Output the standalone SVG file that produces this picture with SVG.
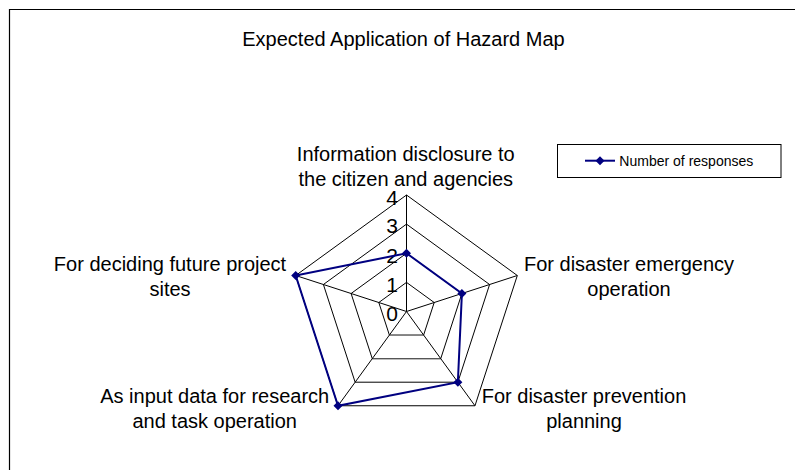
<svg xmlns="http://www.w3.org/2000/svg" width="795" height="470" viewBox="0 0 795 470">
<defs>
<style>
text{font-family:"Liberation Sans",Arial,sans-serif;fill:#000}
.lbl{font-size:20px;text-anchor:middle}
.num{font-size:21px;text-anchor:end}
.grid{fill:none;stroke:#000;stroke-width:1}
.series{fill:none;stroke:#000080;stroke-width:2;stroke-linejoin:miter}
</style>
<path id="dia" d="M0,-4.5 L4.5,0 L0,4.5 L-4.5,0 Z" fill="#000080"/>
</defs>
<rect x="0" y="0" width="795" height="470" fill="#fff"/>
<path d="M9.5,470 V9.5 H795" fill="none" stroke="#000" stroke-width="1.2"/>
<text x="403.5" y="45.5" style="font-size:20px;text-anchor:middle">Expected Application of Hazard Map</text>

<g id="grid">
<polygon class="grid" points="406.5,195 517.3,275.5 474.98,405.75 338.02,405.75 295.7,275.5"/>
<polygon class="grid" points="406.5,224.13 489.6,284.5 457.86,382.19 355.14,382.19 323.4,284.5"/>
<polygon class="grid" points="406.5,253.25 461.9,293.5 440.74,358.63 372.26,358.63 351.1,293.5"/>
<polygon class="grid" points="406.5,282.38 434.2,302.5 423.62,335.06 389.38,335.06 378.8,302.5"/>
<line x1="389.38" y1="335.06" x2="423.62" y2="335.06" stroke="#888" stroke-width="1.3"/>
<line x1="372.26" y1="358.63" x2="440.74" y2="358.63" stroke="#555" stroke-width="1.1"/>
<path class="grid" d="M406.5,311.5 L406.5,195 M406.5,311.5 L517.3,275.5 M406.5,311.5 L474.98,405.75 M406.5,311.5 L338.02,405.75 M406.5,311.5 L295.7,275.5"/>
</g>

<g id="scale">
<text class="num" x="398" y="205">4</text>
<text class="num" x="398" y="233">3</text>
<text class="num" x="398" y="263">2</text>
<text class="num" x="398" y="292">1</text>
<text class="num" x="398" y="321">0</text>
</g>

<g id="series">
<polygon class="series" points="406.5,253.25 461.9,293.5 457.86,382.19 338.02,405.75 295.7,275.5"/>
<use href="#dia" x="406.5" y="253.25"/>
<use href="#dia" x="461.9" y="293.5"/>
<use href="#dia" x="457.86" y="382.19"/>
<use href="#dia" x="338.02" y="405.75"/>
<use href="#dia" x="295.7" y="275.5"/>
</g>

<g id="label-info">
<text class="lbl" x="405.8" y="161">Information disclosure to</text>
<text class="lbl" x="405.8" y="186">the citizen and agencies</text>
</g>
<g id="label-emergency">
<text class="lbl" x="629" y="271">For disaster emergency</text>
<text class="lbl" x="629" y="296">operation</text>
</g>
<g id="label-prevention">
<text class="lbl" x="584" y="403">For disaster prevention</text>
<text class="lbl" x="584" y="428">planning</text>
</g>
<g id="label-research">
<text class="lbl" x="214.7" y="403">As input data for research</text>
<text class="lbl" x="214.7" y="428">and task operation</text>
</g>
<g id="label-deciding">
<text class="lbl" x="170" y="271">For deciding future project</text>
<text class="lbl" x="170" y="296">sites</text>
</g>

<g id="legend">
<rect x="557.5" y="144.5" width="223.5" height="33" fill="#fff" stroke="#000" stroke-width="1"/>
<line x1="585" y1="160.7" x2="615" y2="160.7" stroke="#000080" stroke-width="2"/>
<use href="#dia" x="600" y="160.7"/>
<text x="619.3" y="165.5" style="font-size:14px" textLength="134" lengthAdjust="spacingAndGlyphs">Number of responses</text>
</g>
</svg>
